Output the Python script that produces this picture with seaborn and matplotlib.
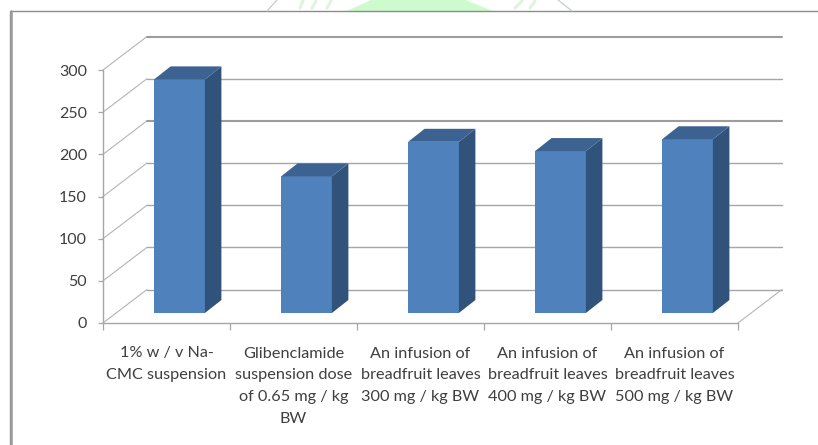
# plot.py
import seaborn as sns
import matplotlib.pyplot as plt
import pandas as pd
from matplotlib.patches import Polygon, Rectangle

categories = [
    "1% w / v Na-\nCMC suspension",
    "Glibenclamide\nsuspension dose\nof 0.65 mg / kg\nBW",
    "An infusion of\nbreadfruit leaves\n300 mg / kg BW",
    "An infusion of\nbreadfruit leaves\n400 mg / kg BW",
    "An infusion of\nbreadfruit leaves\n500 mg / kg BW",
]
values = [277, 162, 203, 192, 206]
y_ticks = [0, 50, 100, 150, 200, 250, 300]

W, H = 818, 445
FRONT, SIDE, TOP = "#4f81bd", "#31527a", "#3c6291"
GRID = "#a6a6a6"
TEXT = "#3f3f3f"

df = pd.DataFrame({"Group": categories, "Value": values})

sns.set_style("white")
plt.rcParams["font.family"] = ["Lato", "DejaVu Sans"]

fig = plt.figure(figsize=(W / 100, H / 100), dpi=100)


def px_axes(left, right, top, bottom):
    return fig.add_axes([left / W, 1 - bottom / H, (right - left) / W, (bottom - top) / H])


# outer frame of the pasted picture, runs off the right and bottom edge
bg = fig.add_axes([0, 0, 1, 1])
bg.set_xlim(0, W)
bg.set_ylim(H, 0)
bg.axis("off")

# bit of the page watermark showing above the frame
bg.add_patch(Polygon([(347, 11), (373, -1), (463, -1), (493, 11)], fc="#cdfbcd", ec="none"))
bg.plot([267, 277], [11, 0], color="#c4cec4", lw=0.9)
bg.plot([558, 572], [0, 11], color="#c4cec4", lw=0.9)
for x0, x1 in [(300, 303), (312, 316), (327, 331), (515, 522), (530, 535)]:
    bg.plot([x0, x1], [8, 1], color="#dff3df", lw=2.2)

bg.add_patch(Rectangle((10, 11), W, H, fill=False, ec="#8c8c8c", lw=1.0))
bg.plot([10.5, 10.5], [11, H], color="#9a9a9a", lw=1.8)

# main axes = front plane of the 3D box
ax = px_axes(103, 738, 70, 323)
ax.set_xlim(-0.5, 4.5)
ax.set_ylim(0, 300)
ax.patch.set_alpha(0)

# wall offset in data units
cat_px = 635 / 5
val_px = 253 / 300
wall_dx = 44 / cat_px
wall_dy = 33.5 / val_px

for v in y_ticks:
    ax.plot([-0.5, -0.5 + wall_dx], [v, v + wall_dy], color="#b4b4b4", lw=0.8, clip_on=False, zorder=1)
    ax.plot([-0.5 + wall_dx, 4.5 + wall_dx], [v + wall_dy, v + wall_dy],
            color="#9c9c9c" if v in (200, 300) else GRID,
            lw=1.5 if v in (200, 300) else 1.0, clip_on=False, zorder=1)
# right side of the floor
ax.plot([4.5, 4.5 + wall_dx], [0, wall_dy], color="#b4b4b4", lw=0.8, clip_on=False, zorder=1)

sns.despine(ax=ax, top=True, right=True)
for side in ("left", "bottom"):
    ax.spines[side].set_color(GRID)
    ax.spines[side].set_linewidth(1.0)

ax.set_yticks(y_ticks)
ax.set_xticks([i - 0.5 for i in range(len(categories) + 1)])
ax.set_xticklabels([])
ax.tick_params(axis="y", length=3.6, width=0.9, color=GRID, labelcolor=TEXT, labelsize=11.5, pad=8, left=True)
ax.tick_params(axis="x", length=4.7, width=0.9, color=GRID, bottom=True)

# category text sits under each slot
for i, label in enumerate(categories):
    ax.text(i, -23.5 / val_px, label, ha="center", va="top", color=TEXT,
            fontsize=11.7, linespacing=1.7, clip_on=False)

# bars on a second axes, moved back into the box
bar_ax = px_axes(103 + 13, 738 + 13, 60, 313)
bar_ax.patch.set_alpha(0)
sns.barplot(data=df, x="Group", y="Value", color=FRONT, saturation=1, width=0.4,
            edgecolor=FRONT, linewidth=0, ax=bar_ax, zorder=3)
bar_ax.set_xlim(-0.5, 4.5)
bar_ax.set_ylim(0, 300)
bar_ax.axis("off")

depth_x = 16.5 / cat_px
depth_y = 13 / val_px
for bar in list(bar_ax.patches):
    x0, x1 = bar.get_x(), bar.get_x() + bar.get_width()
    h = bar.get_height()
    bar_ax.add_patch(Polygon([(x1, 0), (x1 + depth_x, depth_y), (x1 + depth_x, h + depth_y), (x1, h)],
                             fc=SIDE, ec="none", clip_on=False, zorder=3))
    bar_ax.add_patch(Polygon([(x0, h), (x0 + depth_x, h + depth_y), (x1 + depth_x, h + depth_y), (x1, h)],
                             fc=TOP, ec="none", clip_on=False, zorder=3))

fig.savefig("out.png", dpi=100)
plt.close(fig)
